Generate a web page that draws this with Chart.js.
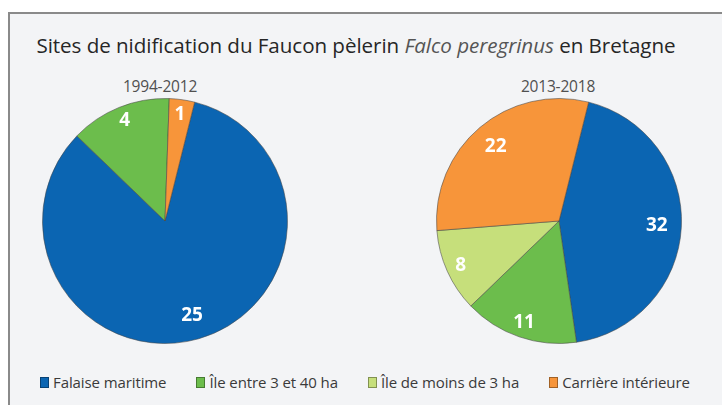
<!DOCTYPE html>
<html lang="fr">
<head>
<meta charset="utf-8">
<title>Sites de nidification du Faucon pèlerin en Bretagne</title>
<script src="https://cdn.jsdelivr.net/npm/chart.js@4.4.1/dist/chart.umd.min.js"></script>
<style>
    html, body { margin: 0; padding: 0; background: #fff; overflow: hidden; }
    body { width: 722px; height: 405px; position: relative; font-family: "Open Sans", "Noto Sans", sans-serif; }
    .frame {
        position: absolute; left: 8px; top: 12px; width: 760px; height: 420px;
        border-left: 2px solid #8a8a8a; border-top: 2px solid #8a8a8a; background: #f3f4f6;
    }
    .title {
        position: absolute; left: 0; width: 712px; top: 31px; text-align: center;
        font-size: 20.6px; color: #262626; letter-spacing: -0.05px;
    }
    .title i { color: #555; }
    .period { position: absolute; top: 75px; width: 120px; text-align: center; font-size: 15.5px; color: #505050; letter-spacing: -0.2px; }
    .pie { position: absolute; top: 96px; width: 250px; height: 250px; }
    .legend {
        position: absolute; left: 40px; top: 372px; display: flex; gap: 30px;
        font-size: 15px; color: #3a3a3a; letter-spacing: -0.1px;
    }
    .legend span { display: flex; align-items: center; }
    .legend b { display: inline-block; width: 9px; height: 11px; margin-right: 4px; box-sizing: border-box; border: 1px solid rgba(0,0,0,0.35); }
</style>
</head>
<body>
<div class="frame"></div>
<div class="title">Sites de nidification du Faucon pèlerin <i>Falco peregrinus</i> en Bretagne</div>
<div class="period" style="left:100px">1994-2012</div>
<div class="period" style="left:498px">2013-2018</div>
<div class="pie" style="left:40px"><canvas id="pieA"></canvas></div>
<div class="pie" style="left:434px"><canvas id="pieB"></canvas></div>
<div class="legend" id="legend"></div>

<script>
const categories = ['Falaise maritime', 'Île entre 3 et 40 ha', 'Île de moins de 3 ha', 'Carrière intérieure'];
const colors = ['#0b65b2', '#6cbd4c', '#c6df7b', '#f7953a'];
const sites1994_2012 = [25, 4, 0, 1];
const sites2013_2018 = [32, 11, 8, 22];

// white numbers drawn inside each slice
const sliceLabels = {
    id: 'sliceLabels',
    afterDatasetsDraw(chart) {
        const ctx = chart.ctx;
        const meta = chart.getDatasetMeta(0);
        const values = chart.data.datasets[0].data;
        ctx.save();
        ctx.fillStyle = '#fff';
        ctx.font = 'bold 19px "Open Sans", sans-serif';
        ctx.textAlign = 'center';
        ctx.textBaseline = 'middle';
        meta.data.forEach((arc, i) => {
            if (!values[i]) return;
            const { x, y, startAngle, endAngle, outerRadius } = arc.getProps(['x', 'y', 'startAngle', 'endAngle', 'outerRadius']);
            const mid = (startAngle + endAngle) / 2;
            const r = outerRadius * (endAngle - startAngle < 1.2 ? 0.88 : 0.8);
            ctx.fillText(String(values[i]), x + Math.cos(mid) * r, y + Math.sin(mid) * r);
        });
        ctx.restore();
    },
};

const makePie = (id, values) => {
    new Chart(document.getElementById(id), {
        type: 'pie',
        data: {
            labels: categories,
            datasets: [{
                data: values,
                backgroundColor: colors,
                borderColor: 'rgba(70,70,70,0.55)',
                borderWidth: 1,
            }],
        },
        options: {
            responsive: true,
            maintainAspectRatio: false,
            animation: false,
            rotation: 14,
            layout: { padding: 2 },
            plugins: { legend: { display: false }, tooltip: { enabled: false } },
        },
        plugins: [sliceLabels],
    });
};

makePie('pieA', sites1994_2012);
makePie('pieB', sites2013_2018);

const legend = document.getElementById('legend');
categories.forEach((name, i) => {
    const item = document.createElement('span');
    const box = document.createElement('b');
    box.style.background = colors[i];
    item.appendChild(box);
    item.appendChild(document.createTextNode(name));
    legend.appendChild(item);
});
</script>
</body>
</html>
